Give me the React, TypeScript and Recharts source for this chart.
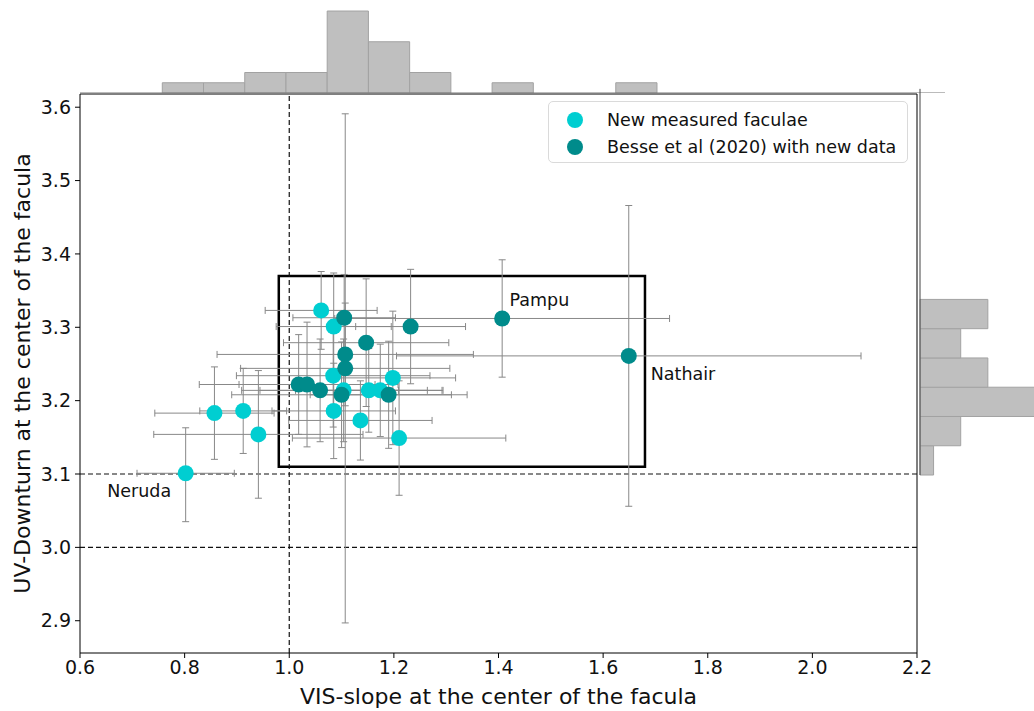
import React from 'react';
import {
  ScatterChart,
  ComposedChart,
  Scatter,
  XAxis,
  YAxis,
  ErrorBar,
  ReferenceLine,
  ReferenceArea,
  Legend,
  Label,
} from 'recharts';

const FONT = '"DejaVu Sans", Verdana, sans-serif';
const CYAN = '#00CED1';
const TEAL = '#008B8B';
const ERR = '#888888';

// New measured faculae
const newX = [0.802, 0.857, 0.912, 0.941, 1.061, 1.085, 1.084, 1.085, 1.104, 1.152, 1.174, 1.198, 1.136, 1.21];
const newY = [3.101, 3.183, 3.186, 3.154, 3.323, 3.301, 3.234, 3.186, 3.214, 3.214, 3.214, 3.231, 3.173, 3.149];
const newErrX = [0.093, 0.114, 0.083, 0.2, 0.107, 0.11, 0.185, 0.118, 0.16, 0.14, 0.12, 0.12, 0.137, 0.204];
const newErrY: (number | number[])[] = [[0.066, 0.062], 0.063, 0.058, 0.087, 0.053, 0.073, 0.07, 0.065, 0.07, 0.057, 0.063, 0.091, 0.054, 0.078];

// Besse et al (2020) with new data
const besseX = [1.105, 1.232, 1.147, 1.107, 1.107, 1.018, 1.034, 1.059, 1.1, 1.19, 1.407, 1.649];
const besseY = [3.313, 3.301, 3.279, 3.263, 3.244, 3.222, 3.222, 3.214, 3.208, 3.208, 3.312, 3.261];
const besseErrX = [0.098, 0.105, 0.158, 0.245, 0.2, 0.19, 0.13, 0.15, 0.21, 0.15, 0.32, 0.444];
const besseErrY = [0.059, 0.078, 0.087, 0.07, 0.347, 0.068, 0.085, 0.07, 0.072, 0.073, 0.08, 0.205];

// annotations (text anchor positions in data coordinates)
const annotNames = ['Neruda', 'Pampu', 'Nathair'];
const annotX = [0.652, 1.421, 1.691];
const annotY = [3.077, 3.337, 3.236];

// axis ticks
const xTicks = [0.6, 0.8, 1.0, 1.2, 1.4, 1.6, 1.8, 2.0, 2.2];
const yTicks = [2.9, 3.0, 3.1, 3.2, 3.3, 3.4, 3.5, 3.6];

// reference lines / box
const vLines = [1.0];
const hLines = [3.1, 3.0];
const boxX = [0.98, 1.68];
const boxY = [3.11, 3.37];

// top marginal histogram (VIS-slope)
const topEdges = [0.7575, 0.8364, 0.9153, 0.9942, 1.0731, 1.152, 1.2309, 1.3098, 1.3887, 1.4676, 1.5465, 1.6254, 1.7043];
const topCounts = [1, 1, 2, 2, 8, 5, 2, 0, 1, 0, 0, 1];

// right marginal histogram (UV-Downturn)
const rightEdges = [3.0986, 3.1385, 3.1784, 3.2183, 3.2582, 3.2981, 3.338];
const rightCounts = [1, 3, 9, 5, 3, 5];

const legendItems = [
  { label: 'New measured faculae', color: CYAN },
  { label: 'Besse et al (2020) with new data', color: TEAL },
];

const X_DOMAIN: [number, number] = [0.6, 2.2];
const Y_DOMAIN: [number, number] = [2.856, 3.618];

const dot = (color: string) => (p: any) => (
  <circle cx={p.cx} cy={p.cy} r={8} fill={color} stroke="none" />
);

const annotShape = (p: any) => (
  <text
    x={p.cx}
    y={p.cy}
    dominantBaseline="central"
    fontSize={17.5}
    fontFamily={FONT}
    fill="#111"
  >
    {p.payload.name}
  </text>
);

const renderLegend = () => (
  <div
    style={{
      boxSizing: 'border-box',
      width: 360,
      height: 62,
      border: '1px solid #dadada',
      borderRadius: 5,
      background: 'rgba(255,255,255,0.85)',
      fontFamily: FONT,
      fontSize: 17.5,
      color: '#111',
      paddingTop: 4,
    }}
  >
    {legendItems.map((it) => (
      <div key={it.label} style={{ height: 27, display: 'flex', alignItems: 'center' }}>
        <span
          style={{
            display: 'inline-block',
            width: 16,
            height: 16,
            borderRadius: 8,
            background: it.color,
            marginLeft: 18,
            marginRight: 24,
          }}
        />
        <span style={{ whiteSpace: 'nowrap' }}>{it.label}</span>
      </div>
    ))}
  </div>
);

const yLabel = (props: any) => {
  const vb = props.viewBox || {};
  const cy = vb.y + vb.height / 2;
  return (
    <text
      x={22}
      y={cy}
      transform={`rotate(-90, 22, ${cy})`}
      textAnchor="middle"
      dominantBaseline="central"
      fontSize={22}
      fontFamily={FONT}
      fill="#111"
    >
      UV-Downturn at the center of the facula
    </text>
  );
};

export default function App() {
  const newData = newX.map((x, i) => ({ x, y: newY[i], ex: newErrX[i], ey: newErrY[i] }));
  const besseData = besseX.map((x, i) => ({ x, y: besseY[i], ex: besseErrX[i], ey: besseErrY[i] }));
  const annotData = annotNames.map((name, i) => ({ name, x: annotX[i], y: annotY[i] }));
  const topData = topCounts.map((c, i) => ({ x0: topEdges[i], x1: topEdges[i + 1], c }));
  const rightData = rightCounts.map((c, i) => ({ y0: rightEdges[i], y1: rightEdges[i + 1], c }));

  return (
    <div
      style={{
        position: 'absolute',
        left: 0,
        top: 0,
        width: 1034,
        height: 711,
        background: '#fff',
        overflow: 'hidden',
        fontFamily: FONT,
      }}
    >
      {/* main scatter */}
      <div style={{ position: 'absolute', left: 0, top: 0 }}>
        <ScatterChart
          width={1034}
          height={711}
          margin={{ top: 94, right: 117, bottom: 0, left: 0 }}
        >
          <XAxis
            type="number"
            dataKey="x"
            domain={X_DOMAIN}
            ticks={xTicks}
            interval={0}
            allowDataOverflow
            height={58}
            tickSize={5}
            tickMargin={3}
            tickFormatter={(v: number) => v.toFixed(1)}
            tick={{ fontSize: 19, fill: '#111', fontFamily: FONT }}
            tickLine={{ stroke: '#000' }}
            axisLine={{ stroke: '#000' }}
          >
            <Label
              value="VIS-slope at the center of the facula"
              position="insideBottom"
              offset={7}
              style={{ fontSize: 22, fill: '#111', fontFamily: FONT }}
            />
          </XAxis>
          <YAxis
            type="number"
            dataKey="y"
            domain={Y_DOMAIN}
            ticks={yTicks}
            interval={0}
            allowDataOverflow
            width={80}
            tickSize={5}
            tickMargin={4}
            tickFormatter={(v: number) => v.toFixed(1)}
            tick={{ fontSize: 19, fill: '#111', fontFamily: FONT }}
            tickLine={{ stroke: '#000' }}
            axisLine={{ stroke: '#000' }}
            label={yLabel}
          />
          <ReferenceLine y={Y_DOMAIN[1]} stroke="#000" strokeWidth={1} />
          <ReferenceLine x={X_DOMAIN[1]} stroke="#000" strokeWidth={1} />
          {vLines.map((v) => (
            <ReferenceLine key={`v${v}`} x={v} stroke="#111" strokeWidth={1.2} strokeDasharray="5 3" />
          ))}
          {hLines.map((v) => (
            <ReferenceLine key={`h${v}`} y={v} stroke="#111" strokeWidth={1.2} strokeDasharray="5 3" />
          ))}
          <Scatter
            name="New measured faculae"
            data={newData}
            fill={CYAN}
            shape={dot(CYAN)}
            isAnimationActive={false}
          >
            <ErrorBar dataKey="ex" direction="x" width={3.5} stroke={ERR} strokeWidth={1} />
            <ErrorBar dataKey="ey" direction="y" width={3.5} stroke={ERR} strokeWidth={1} />
          </Scatter>
          <Scatter
            name="Besse et al (2020) with new data"
            data={besseData}
            fill={TEAL}
            shape={dot(TEAL)}
            isAnimationActive={false}
          >
            <ErrorBar dataKey="ex" direction="x" width={3.5} stroke={ERR} strokeWidth={1} />
            <ErrorBar dataKey="ey" direction="y" width={3.5} stroke={ERR} strokeWidth={1} />
          </Scatter>
          <Scatter
            name="annotations"
            data={annotData}
            legendType="none"
            shape={annotShape}
            isAnimationActive={false}
          />
          <ReferenceArea
            x1={boxX[0]}
            x2={boxX[1]}
            y1={boxY[0]}
            y2={boxY[1]}
            fill="none"
            fillOpacity={0}
            stroke="#000"
            strokeWidth={2.5}
            ifOverflow="visible"
          />
          <Legend
            layout="vertical"
            align="center"
            verticalAlign="middle"
            content={renderLegend}
            wrapperStyle={{ position: 'absolute', left: 548, top: 101, width: 360, height: 62 }}
          />
        </ScatterChart>
      </div>

      {/* top histogram */}
      <div style={{ position: 'absolute', left: 0, top: 0 }}>
        <ComposedChart
          width={945}
          height={93}
          data={topData}
          margin={{ top: 2, right: 0, bottom: 0, left: 80 }}
        >
          <XAxis type="number" dataKey="x0" domain={[0.6, 2.2555]} hide allowDataOverflow />
          <YAxis type="number" dataKey="c" domain={[0, 8.88]} hide allowDataOverflow />
          {topData.map((d, i) =>
            d.c > 0 ? (
              <ReferenceArea
                key={i}
                x1={d.x0}
                x2={d.x1}
                y1={0}
                y2={d.c}
                fill="#bfbfbf"
                fillOpacity={1}
                stroke="#a2a2a2"
                strokeWidth={1}
                ifOverflow="visible"
              />
            ) : null
          )}
          <ReferenceLine y={0} stroke="#777" strokeWidth={1} ifOverflow="visible" />
        </ComposedChart>
      </div>

      {/* right histogram */}
      <div style={{ position: 'absolute', left: 919, top: 0 }}>
        <ComposedChart
          width={115}
          height={711}
          data={rightData}
          margin={{ top: 94, right: 0, bottom: 58, left: 1 }}
        >
          <XAxis type="number" dataKey="c" domain={[0, 8.4]} hide allowDataOverflow />
          <YAxis type="number" dataKey="y0" domain={Y_DOMAIN} hide allowDataOverflow />
          {rightData.map((d, i) =>
            d.c > 0 ? (
              <ReferenceArea
                key={i}
                x1={0}
                x2={d.c}
                y1={d.y0}
                y2={d.y1}
                fill="#bfbfbf"
                fillOpacity={1}
                stroke="#a2a2a2"
                strokeWidth={1}
                ifOverflow="visible"
              />
            ) : null
          )}
          <ReferenceLine
            segment={[
              { x: 0, y: rightEdges[0] },
              { x: 0, y: 3.625 },
            ]}
            stroke="#444"
            strokeWidth={1}
            ifOverflow="visible"
          />
        </ComposedChart>
      </div>
    </div>
  );
}
